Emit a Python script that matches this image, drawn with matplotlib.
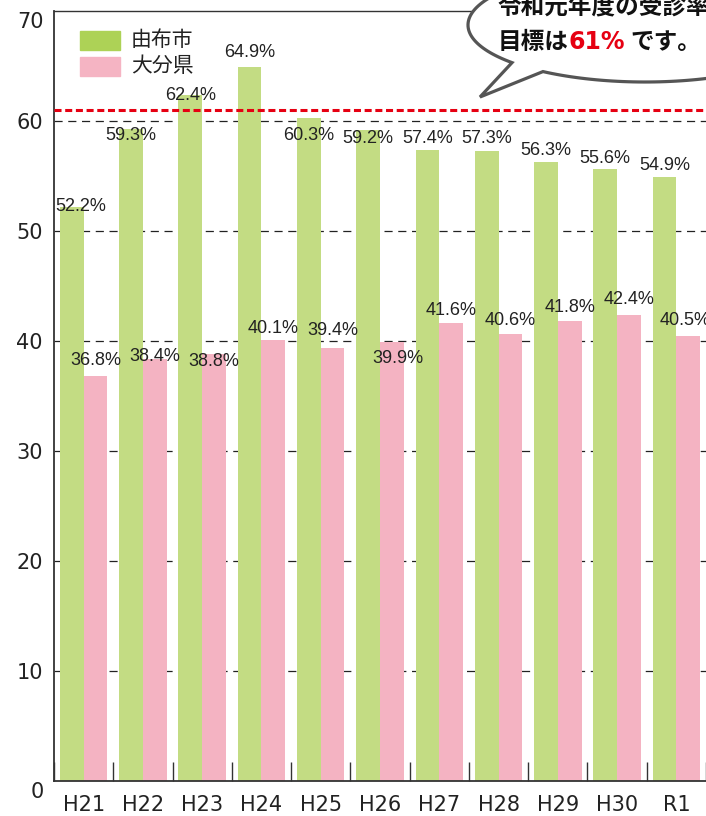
import numpy as np
import matplotlib
matplotlib.use("Agg")
import matplotlib.pyplot as plt
from matplotlib.path import Path
from matplotlib.patches import PathPatch, Rectangle
from matplotlib.transforms import offset_copy

# datos
years = ["H21", "H22", "H23", "H24", "H25", "H26", "H27", "H28", "H29", "H30", "R1"]
yufu = [52.2, 59.3, 62.4, 64.9, 60.3, 59.2, 57.4, 57.3, 56.3, 55.6, 54.9]
oita = [36.8, 38.4, 38.8, 40.1, 39.4, 39.9, 41.6, 40.6, 41.8, 42.4, 40.5]
target = 61
series_names = ["由布市", "大分県"]

# desplazamiento de las etiquetas (como en el original, colocadas a mano)
yufu_dy = [0.0, -0.6, -0.1, 1.3, -1.6, -0.8, 1.0, 1.1, 1.0, 1.0, 1.1]
oita_dy = [1.4, 0.2, -0.7, 1.0, 1.6, -1.5, 1.15, 1.25, 1.25, 1.4, 1.35]
yufu_dx = [0.15, 0, 0, 0, 0, 0, 0, 0, 0, 0, 0]
oita_dx = [0, 0, 0, 0, 0, 0.1, 0, 0, 0, 0, -0.05]

green = "#c3dc83"
pink = "#f4b3c2"
green_leg = "#add256"
pink_leg = "#f5b4c3"

JP = ["Noto Sans CJK JP", "DejaVu Sans"]
NUM = ["Liberation Sans Narrow", "Liberation Sans", "DejaVu Sans"]

W, H = 706, 816
fig = plt.figure(figsize=(W / 100, H / 100), dpi=100)
ax = fig.add_axes([54 / W, 1 - 781 / H, 652 / W, 770 / H])

x = np.arange(len(years))
bw = 0.4
ax.bar(x - bw / 2, yufu, bw, color=green, zorder=2)
ax.bar(x + bw / 2, oita, bw, color=pink, zorder=2)

for v in range(10, 70, 10):
    ax.axhline(v, color="#222222", lw=0.9, dashes=(6.5, 4.5), zorder=1)
ax.axhline(target, color="#e60012", lw=2.2, dashes=(2.3, 1.2), zorder=3)

for i in range(len(years)):
    ax.text(x[i] - bw / 2 + yufu_dx[i], yufu[i] + yufu_dy[i], f"{yufu[i]:.1f}%",
            ha="center", va="center", fontsize=13, family=NUM, color="#222222", zorder=4)
    ax.text(x[i] + bw / 2 + oita_dx[i], oita[i] + oita_dy[i], f"{oita[i]:.1f}%",
            ha="center", va="center", fontsize=13, family=NUM, color="#222222", zorder=4)

ax.set_xlim(-0.5, len(years) - 0.5)
ax.set_ylim(0, 70)

# eje x: marcas entre grupos, hacia dentro
ax.set_xticks(x)
ax.set_xticklabels(years, fontsize=15, color="#222222")
ax.set_xticks(np.arange(-0.5, len(years), 1), minor=True)
ax.tick_params(axis="x", which="major", length=0, pad=10)
ax.tick_params(axis="x", which="minor", direction="in", length=13.5, width=1, color="#333333")

# eje y: 0 y 70 van desplazados hacia abajo
yt = list(range(0, 71, 10))
ax.set_yticks(yt)
ax.set_yticklabels(["" if v in (0, 70) else str(v) for v in yt], fontsize=15, color="#222222")
ax.tick_params(axis="y", length=0, pad=8)
for v in (0, 70):
    tr = offset_copy(ax.get_yaxis_transform(), fig=fig, x=-10, y=-11, units="dots")
    ax.text(0, v, str(v), transform=tr, ha="right", va="center", fontsize=15, color="#222222")

for s in ["left", "bottom", "top"]:
    ax.spines[s].set_color("#333333")
ax.spines["left"].set_linewidth(1.3)
ax.spines["bottom"].set_linewidth(1.3)
ax.spines["top"].set_linewidth(1.0)
ax.spines["right"].set_visible(False)

# leyenda hecha a mano
for k, (c, yb) in enumerate([(green_leg, 50), (pink_leg, 76)]):
    ax.add_patch(Rectangle(((80 - 54) / 652, (781 - yb) / 770), 40 / 652, 19 / 770,
                           transform=ax.transAxes, color=c, zorder=5))
    ax.text((131 - 54) / 652, (781 - (yb - 9.5)) / 770, series_names[k], transform=ax.transAxes,
            ha="left", va="center", fontsize=15, family=JP, color="#222222", zorder=5)

# globo de texto (en píxeles de la figura, y hacia abajo)
def px(xx, yy):
    return (xx / W, 1 - yy / H)

cx, cy, a, b = 645, 25, 177, 57
t = np.radians(np.linspace(138.7, 125.2 + 360, 200))
pts = [px(cx + a * np.cos(tt), cy + b * np.sin(tt)) for tt in t]
pts.append(px(480, 97))
pts.append(pts[0])
codes = [Path.MOVETO] + [Path.LINETO] * (len(pts) - 2) + [Path.CLOSEPOLY]
bubble = PathPatch(Path(pts, codes), facecolor="white", edgecolor="#555555", lw=2.3,
                   transform=fig.transFigure, zorder=10, joinstyle="miter")
fig.add_artist(bubble)

fig.text(*px(498, 7), "令和元年度の受診率", ha="left", va="center", fontsize=17,
         fontweight="bold", family=JP, color="#111111", zorder=11)
fig.text(*px(498, 42), "目標は", ha="left", va="center", fontsize=17,
         fontweight="bold", family=JP, color="#111111", zorder=11)
fig.text(*px(568, 42), "61%", ha="left", va="center", fontsize=17,
         fontweight="bold", family=["DejaVu Sans"], color="#e60012", zorder=11)
fig.text(*px(630, 42), "です。", ha="left", va="center", fontsize=17,
         fontweight="bold", family=JP, color="#111111", zorder=11)

fig.savefig("out.png", dpi=100)
